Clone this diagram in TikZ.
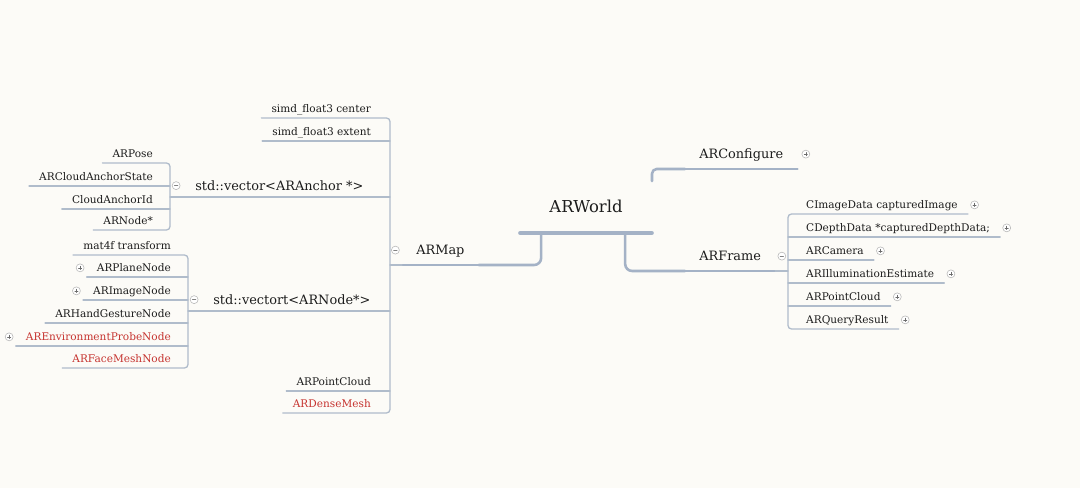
\documentclass[tikz,border=0pt]{standalone}
\usepackage{fontspec}
\setmainfont{DejaVu Serif}
\usetikzlibrary{positioning}
\definecolor{paper}{RGB}{252,251,247}
\definecolor{inkgray}{RGB}{28,28,28}
\definecolor{inkred}{RGB}{198,52,48}
\definecolor{twiggray}{RGB}{176,188,203}
\definecolor{bargray}{RGB}{164,178,198}
\definecolor{dotgray}{RGB}{185,185,185}

\begin{document}
\begin{tikzpicture}[x=0.03cm,y=-0.03cm,line cap=round,line join=round,
  leaf/.style={font=\fontsize{9}{10}\selectfont,text=inkgray,inner xsep=8.5pt,inner ysep=4.3pt,text height=6.6pt,text depth=0pt},
  redleaf/.style={leaf,text=inkred},
  hub/.style={font=\fontsize{11}{12}\selectfont,text=inkgray,inner xsep=12pt,inner ysep=8.5pt,text height=8pt,text depth=0pt},
  vechub/.style={hub,inner ysep=5.5pt},
  roothub/.style={font=\fontsize{14}{16}\selectfont,text=inkgray,minimum width=112pt,inner ysep=17pt,text height=10pt,text depth=0pt},
  twig/.style={draw=twiggray,line width=1.1pt},
  stem/.style={draw=bargray,line width=2.2pt},
  bar/.style={draw=bargray,line width=2.2pt},
  trunk/.style={draw=bargray,line width=3.4pt},
  plusdot/.style={circle,draw=dotgray,fill=white,line width=0.5pt,inner sep=0pt,minimum size=6.8pt,
    path picture={\draw[inkgray!65,line width=0.45pt] (path picture bounding box.center) ++(-1.4pt,0) -- ++(2.8pt,0)
      (path picture bounding box.center) ++(0,-1.4pt) -- ++(0,2.8pt);}},
  minusdot/.style={circle,draw=dotgray,fill=white,line width=0.5pt,inner sep=0pt,minimum size=6.8pt,
    path picture={\draw[inkgray!55,line width=0.45pt] (path picture bounding box.center) ++(-1.5pt,0) -- ++(3pt,0);}}]
\useasboundingbox (0,0) rectangle (1080,488);
\fill[paper] (0,0) rectangle (1080,488);

\node[roothub,anchor=south] (arworld) at (586,233) {ARWorld};
\draw[trunk] (arworld.south west) -- (arworld.south east);

\node[hub,anchor=south west] (armap) at (402,265) {ARMap};
\node[hub,anchor=south west] (arframe) at (685,271) {ARFrame};
\node[hub,anchor=south west] (arconf) at (685,169) {ARConfigure};
\draw[bar] (armap.south west) -- (armap.south east);
\draw[bar] (arframe.south west) -- (arframe.south east);
\draw[bar] (arconf.south west) -- (arconf.south east);
\draw[stem,rounded corners=6pt] (arworld.south west) ++(21,0) |- (armap.south east);
\draw[stem,rounded corners=6pt] (arworld.south west) ++(105,0) |- (arframe.south west);
\coordinate (confstub) at (652,181);
\draw[stem,rounded corners=4pt] (confstub) |- (arconf.south west);
\node[minusdot,left=2pt of armap] (armapdot) {};
\node[minusdot,right=2pt of arframe] (arframedot) {};
\node[plusdot,right=3.5pt of arconf] (arconfdot) {};

\coordinate (mapspine) at (390,118);
\coordinate (mapend) at (390,413);
\node[leaf,anchor=south east] (simdc) at (381,118) {simd\_float3 center};
\node[leaf,anchor=south east] (simde) at (381,141) {simd\_float3 extent};
\node[vechub,anchor=south west] (anchvec) at (181,197) {std::vector<ARAnchor *>};
\node[vechub,anchor=south west] (nodevec) at (199,311) {std::vectort<ARNode*>};
\node[leaf,anchor=south east] (mappts) at (381,391) {ARPointCloud};
\node[redleaf,anchor=south east] (densemesh) at (381,413) {ARDenseMesh};
\draw[twig,rounded corners=3pt] (simdc.south west) -- (mapspine) -- (mapend) -- (densemesh.south west);
\draw[twig] (simde.south west) -- (simde.south west -| mapspine);
\draw[twig] (mappts.south west) -- (mappts.south west -| mapspine);
\draw[twig] (armap.south west) -- (armap.south west -| mapspine);
\node[minusdot,left=0.5pt of anchvec] (anchvecdot) {};
\node[minusdot,left=0.5pt of nodevec] (nodevecdot) {};

\coordinate (anchspine) at (170,163);
\coordinate (anchend) at (170,230);
\node[leaf,anchor=south east] (pose) at (163,163) {ARPose};
\node[leaf,anchor=south east] (anchstate) at (163,186) {ARCloudAnchorState};
\node[leaf,anchor=south east] (anchid) at (163,209) {CloudAnchorId};
\node[leaf,anchor=south east] (anchnode) at (163,230) {ARNode*};
\draw[twig,rounded corners=3pt] (pose.south west) -- (anchspine) -- (anchend) -- (anchnode.south west);
\draw[twig] (anchstate.south west) -- (anchstate.south west -| anchspine);
\draw[twig] (anchid.south west) -- (anchid.south west -| anchspine);
\draw[twig] (anchvec.south west -| anchspine) -- (anchvec.south west -| mapspine);

\coordinate (nodespine) at (188,255);
\coordinate (nodeend) at (188,368);
\node[leaf,anchor=south east] (transform) at (181,255) {mat4f transform};
\node[leaf,anchor=south east] (plane) at (181,277) {ARPlaneNode};
\node[leaf,anchor=south east] (image) at (181,300) {ARImageNode};
\node[leaf,anchor=south east] (gesture) at (181,323) {ARHandGestureNode};
\node[redleaf,anchor=south east] (probe) at (181,346) {AREnvironmentProbeNode};
\node[redleaf,anchor=south east] (facemesh) at (181,368) {ARFaceMeshNode};
\draw[twig,rounded corners=3pt] (transform.south west) -- (nodespine) -- (nodeend) -- (facemesh.south west);
\draw[twig] (plane.south west) -- (plane.south west -| nodespine);
\draw[twig] (image.south west) -- (image.south west -| nodespine);
\draw[twig] (gesture.south west) -- (gesture.south west -| nodespine);
\draw[twig] (probe.south west) -- (probe.south west -| nodespine);
\draw[twig] (nodevec.south west -| nodespine) -- (nodevec.south west -| mapspine);
\node[plusdot,left=2pt of plane] (planedot) {};
\node[plusdot,left=2pt of image] (imagedot) {};
\node[plusdot,left=2pt of probe] (probedot) {};

\coordinate (framespine) at (788,214);
\coordinate (frameend) at (788,329);
\node[leaf,anchor=south west] (cimage) at (796,214) {CImageData capturedImage};
\node[leaf,anchor=south west] (cdepth) at (796,237) {CDepthData *capturedDepthData;};
\node[leaf,anchor=south west] (camera) at (796,260) {ARCamera};
\node[leaf,anchor=south west] (light) at (796,283) {ARIlluminationEstimate};
\node[leaf,anchor=south west] (framepts) at (796,306) {ARPointCloud};
\node[leaf,anchor=south west] (query) at (796,329) {ARQueryResult};
\draw[twig,rounded corners=3pt] (cimage.south east) -- (cimage.south east -| framespine) -- (frameend) -- (query.south east);
\draw[twig] (cdepth.south east) -- (cdepth.south east -| framespine);
\draw[twig] (camera.south east) -- (camera.south east -| framespine);
\draw[twig] (light.south east) -- (light.south east -| framespine);
\draw[twig] (framepts.south east) -- (framepts.south east -| framespine);
\draw[twig] (arframe.south east) -- (arframe.south east -| framespine);
\foreach \leafname in {cimage,cdepth,camera,light,framepts,query}
  \node[plusdot,right=2pt of \leafname] (\leafname dot) {};
\end{tikzpicture}
\end{document}
